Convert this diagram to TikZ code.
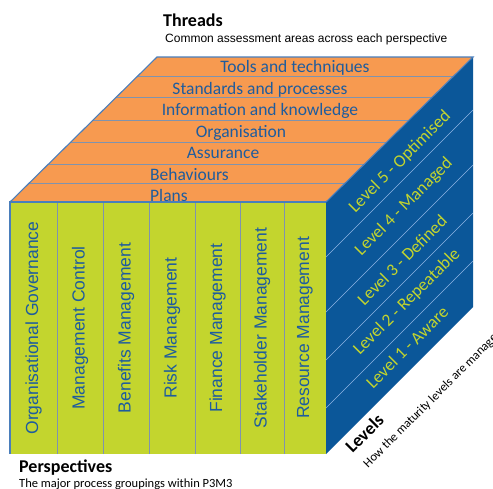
\documentclass[tikz,border=0pt]{standalone}
\usepackage{fontspec}
\setmainfont{Carlito}
\newfontfamily\arialf{Liberation Sans}
\definecolor{topfill}{HTML}{F79A50}
\definecolor{frontfill}{HTML}{C3D52E}
\definecolor{sidefill}{HTML}{0B5799}
\definecolor{edgeblue}{HTML}{4A7EBB}
\definecolor{stripeline}{HTML}{7F93AE}
\definecolor{sideline}{HTML}{8EB4E3}
\definecolor{labelblue}{HTML}{1E5C9E}
\definecolor{levelgreen}{HTML}{C3D52E}
\begin{document}
\begin{tikzpicture}[x=1pt,y=-1pt,
  threadtext/.style={inner sep=0pt,anchor=base,text=labelblue,font=\fontsize{17.5}{19}\selectfont},
  persptext/.style={inner sep=0pt,rotate=90,text=labelblue,font=\arialf\fontsize{17.5}{19}\selectfont},
  leveltext/.style={inner sep=0pt,rotate=45,text=levelgreen,font=\fontsize{17.5}{19}\selectfont},
  titletext/.style={inner sep=0pt,anchor=base west,font=\bfseries\fontsize{18}{20}\selectfont},
  subtext/.style={inner sep=0pt,anchor=base west,font=\fontsize{12.5}{14}\selectfont}]
\useasboundingbox (0,0) rectangle (493,488);
\clip (0,0) rectangle (493,488);

% cube corners
\coordinate (ftl) at (10,202);
\coordinate (ftr) at (326,202);
\coordinate (fbl) at (10,454);
\coordinate (fbr) at (326,454);
\coordinate (btl) at (157,57);
\coordinate (btr) at (473,57);
\coordinate (bbr) at (473,307);

% right face: maturity levels
\fill[sidefill] (ftr) -- (btr) -- (bbr) -- (fbr) -- cycle;
\foreach \yy in {257,312,360,408}
  \draw[sideline,line width=0.6pt] (326,\yy) -- (473,{\yy-147});

% top face: threads
\fill[topfill] (ftl) -- (ftr) -- (btr) -- (btl) -- cycle;
\foreach \yy in {76,97,120,142,164,183}
  \draw[stripeline,line width=0.9pt] ({10+(202-\yy)*1.0138},\yy) -- ({326+(202-\yy)*1.0138},\yy);
\draw[edgeblue,line width=1.1pt] (ftl) -- (btl) -- (btr) -- (ftr);

% front face: perspectives
\fill[frontfill] (ftl) rectangle (fbr);
\foreach \xx in {57,103,149,195,240,284}
  \draw[stripeline,line width=0.6pt] (\xx,202) -- (\xx,454);
\draw[edgeblue,line width=1.1pt] (fbl) -- (ftl) -- (ftr);

% thread labels
\node[threadtext] (t7) at (295,72.5) {Tools and techniques};
\node[threadtext] (t6) at (260,94) {Standards and processes};
\node[threadtext] (t5) at (260,115.5) {Information and knowledge};
\node[threadtext] (t4) at (241,137) {Organisation};
\node[threadtext] (t3) at (223,158.5) {Assurance};
\node[threadtext,anchor=base west] (t2) at (150,180) {Behaviours};
\node[threadtext,anchor=base west] (t1) at (150,201.5) {Plans};

% perspective labels
\node[persptext] (p1) at (33.5,328) {Organisational Governance};
\node[persptext] (p2) at (80,328) {Management Control};
\node[persptext] (p3) at (126,328) {Benefits Management};
\node[persptext] (p4) at (172,328) {Risk Management};
\node[persptext] (p5) at (217.5,328) {Finance Management};
\node[persptext] (p6) at (262,328) {Stakeholder Management};
\node[persptext] (p7) at (305,328) {Resource Management};

% level labels
\node[leveltext] (l5) at (400,162) {Level 5 - Optimised};
\node[leveltext] (l4) at (404,207) {Level 4 - Managed};
\node[leveltext] (l3) at (402,260) {Level 3 - Defined};
\node[leveltext] (l2) at (407,302) {Level 2 - Repeatable};
\node[leveltext] (l1) at (407,347) {Level 1 - Aware};

% captions
\node[titletext] (thr) at (163,26) {Threads};
\node[subtext,font=\arialf\fontsize{12}{14}\selectfont] (thrs) at (165,42.5) {Common assessment areas across each perspective};
\node[titletext] (per) at (19,472) {Perspectives};
\node[subtext] (pers) at (19,487) {The major process groupings within P3M3};
\node[titletext,rotate=45] (lev) at (352.5,454) {Levels};
\node[subtext,rotate=45] (levs) at (368,468.5) {How the maturity levels are managed};
\end{tikzpicture}
\end{document}
